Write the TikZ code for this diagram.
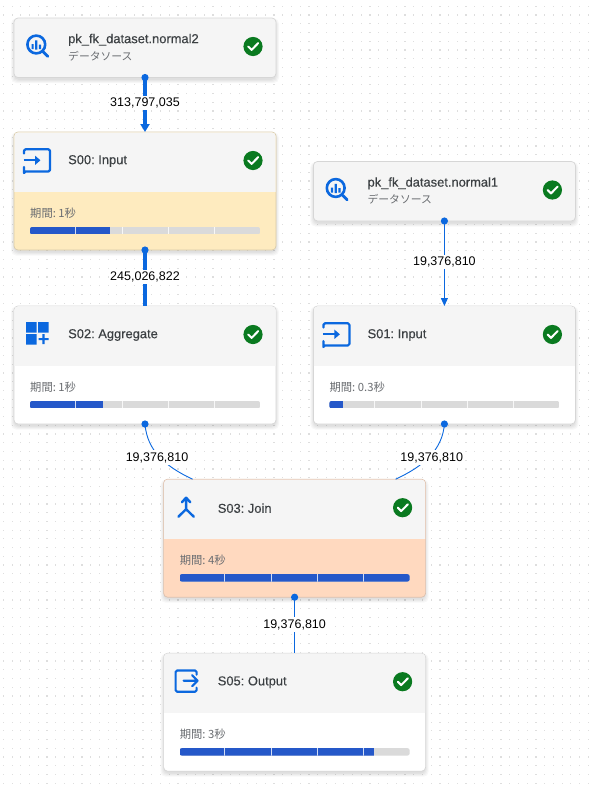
\documentclass[tikz,border=0pt]{standalone}
\usepackage{fontspec}
\setmainfont{Liberation Sans}
\newfontfamily\jpfont{Noto Sans CJK JP}
\newfontfamily\medfont[FakeBold=0.35]{Liberation Sans}
\usetikzlibrary{arrows.meta,calc}
\definecolor{flow}{HTML}{0B68DF}
\definecolor{iconblue}{HTML}{0B68DF}
\definecolor{barblue}{HTML}{2558C9}
\definecolor{bargrey}{HTML}{DADADA}
\definecolor{okgreen}{HTML}{0A7A20}
\definecolor{hdr}{HTML}{F5F5F5}
\definecolor{edge}{HTML}{D6D6D6}
\definecolor{warm}{HTML}{FEEBBF}
\definecolor{warmedge}{HTML}{D8CBAA}
\definecolor{hot}{HTML}{FFD9BF}
\definecolor{hotedge}{HTML}{DCC0AE}
\definecolor{griddot}{HTML}{DEDEDE}
\definecolor{titletext}{HTML}{3C4043}
\definecolor{subtext}{HTML}{6A6D71}
\tikzset{
  x=1pt,y=-1pt,
  cardbox/.style={draw=edge,line width=.7pt,rounded corners=4pt,minimum width=262pt,inner sep=0pt,outer sep=0pt},
  titletxt/.style={anchor=west,inner sep=0pt,text=titletext,font=\medfont\fontsize{12.9}{14}\selectfont},
  subtxt/.style={anchor=west,inner sep=0pt,text=subtext,font=\jpfont\fontsize{10.8}{13}\selectfont},
  timetxt/.style={anchor=west,inner sep=0pt,text=subtext,font=\jpfont\fontsize{11.3}{14}\selectfont},
  lbl/.style={fill=white,inner xsep=1.5pt,inner ysep=2pt,text=black,font=\fontsize{12.5}{14}\selectfont},
  thickflow/.style={draw=flow,line width=3.4pt},
  thinflow/.style={draw=flow,line width=.9pt},
  portdot/.style={fill=flow},
  iconline/.style={draw=iconblue,line width=2.2pt,line cap=round,line join=round},
  checkmark/.style={draw=white,line width=2pt,line cap=round,line join=round},
}
\newcommand{\cardshadow}[1]{%
  \foreach \g in {0,1,2,3}{%
    \fill[black,opacity=.03,rounded corners=5pt] (-\g*1.0,2-\g*.5) rectangle (262+\g*1.0,#1+2.5+\g*1.0);
  }%
}
\newcommand{\okbadge}[1]{%
  \fill[okgreen] (239,#1) circle (9.6);
  \draw[checkmark] (234.2,#1) -- (237.6,#1+3.4) -- (244.2,#1-3.4);
}
\newcommand{\inputicon}{%
  \draw[iconline] (10,21.5) -- (10,18.8) arc[start angle=180,end angle=270,radius=1.5] -- (34.5,17.3) arc[start angle=-90,end angle=0,radius=1.5] -- (36,38) arc[start angle=0,end angle=90,radius=1.5] -- (11.5,39.5) arc[start angle=270,end angle=180,radius=1.5] -- (10,35);
  \draw[iconline,line cap=butt,-{Triangle[length=5.5pt,width=9pt]}] (9.5,28.3) -- (26.5,28.3);
}
\newcommand{\outputicon}{%
  \draw[iconline] (33,21.5) -- (33,18.8) arc[start angle=0,end angle=-90,radius=1.5] -- (13.5,17.3) arc[start angle=270,end angle=180,radius=1.5] -- (12,37) arc[start angle=180,end angle=90,radius=1.5] -- (31.5,38.5) arc[start angle=90,end angle=0,radius=1.5] -- (33,34.5);
  \draw[iconline] (20,27.5) -- (34,27.5) (28.5,22) -- (34,27.5) -- (28.5,33);
}
\newcommand{\aggicon}{%
  \fill[iconblue] (12,16) rectangle (22.5,26.5) (24,16) rectangle (34.5,26.5) (12,28) rectangle (22.5,38.5);
  \fill[iconblue] (24.5,32) rectangle (34.5,34.2) (28.4,28) rectangle (30.6,38);
}
\newcommand{\joinicon}{%
  \draw[iconline,line width=2.4pt] (22.5,19) -- (22.5,30) (14.8,37.5) -- (22.5,30) -- (30.2,37.5) (18.3,23) -- (22.5,18.5) -- (26.7,23);
}
\newcommand{\bqicon}{%
  \draw[iconline,line width=2.6pt] (22.3,26.5) circle (8.9);
  \draw[iconline,line width=2.8pt] (29.2,33.8) -- (33.8,38.4);
  \fill[iconblue] (17.5,26) rectangle (19.7,31) (21.2,22.3) rectangle (23.4,31.5) (24.9,26.5) rectangle (27.1,31);
}
\newcommand{\stagecard}[9]{%
  \begin{scope}[shift={(#2,#3)}]
    \cardshadow{118}
    \node[cardbox,draw=#5,fill=#4,minimum height=118pt] (#1) at (131,59) {};
    \begin{scope}
      \clip[rounded corners=3.6pt] (.4,.4) rectangle (261.6,117.6);
      \fill[hdr] (0,0) rectangle (262,59.5);
    \end{scope}
    #6
    \node[titletxt] at (54,29) {#7};
    \okbadge{28.5}
    \node[timetxt] at (16,81.2) {期間: #8};
    \begin{scope}
      \clip[rounded corners=2pt] (16,95) rectangle (246,102.3);
      \fill[bargrey] (16,95) rectangle (246,102.3);
      \fill[barblue] (16,95) rectangle (16+#9,102.3);
      \foreach \s in {61.3,108,154.3,200.3}{\fill[white,opacity=.8] (\s-.5,95) rectangle (\s+.5,102.3);}
    \end{scope}
  \end{scope}
}
\newcommand{\sourcecard}[5]{%
  \begin{scope}[shift={(#2,#3)}]
    \cardshadow{59.5}
    \node[cardbox,fill=hdr,minimum height=59.5pt] (#1) at (131,29.75) {};
    \bqicon
    \node[titletxt] at (54,#5) {#4};
    \node[subtxt] at (54,#5+16.3) {データソース};
    \okbadge{28.5}
  \end{scope}
}
\begin{document}
\frenchspacing
\begin{tikzpicture}
\useasboundingbox (0,0) rectangle (596,787);
\fill[white] (0,0) rectangle (596,787);
\foreach \i in {0,...,67}{
  \foreach \j in {0,...,89}{
    \fill[griddot] ({3.4+\i*8.73-.6},{6.3+\j*8.73-.6}) rectangle ++(1.2,1.2);
  }
}
\sourcecard{ds2}{14}{18}{pk\_fk\_dataset.normal2}{21.8}
\sourcecard{ds1}{313.4}{161.5}{pk\_fk\_dataset.normal1}{21.8}
\stagecard{s00}{14}{132}{warm}{warmedge}{\inputicon}{S00: Input}{1秒}{80}
\stagecard{s01}{313.4}{306}{white}{edge}{\inputicon}{S01: Input}{0.3秒}{14}
\stagecard{s02}{14}{306}{white}{edge}{\aggicon}{S02: Aggregate}{1秒}{73}
\stagecard{s03}{163.6}{479.2}{hot}{hotedge}{\joinicon}{S03: Join}{4秒}{231}
\stagecard{s05}{163.6}{653.2}{white}{edge}{\outputicon}{S05: Output}{3秒}{194}
\draw[thickflow,-{Triangle[length=8pt,width=9pt]}] (ds2.south) -- node[lbl,pos=.47] (l1) {313,797,035} (s00.north);
\draw[thickflow] (s00.south) -- node[lbl,pos=.48] (l2) {245,026,822} (s02.north);
\draw[thinflow,-{Triangle[length=8pt,width=7pt]}] (ds1.south) -- node[lbl,pos=.485] (l3) {19,376,810} (s01.north);
\draw[thinflow] (s02.south) .. controls ($(s02.south)+(2,26)$) and ($(s03.north)+(-130,-13)$) .. node[lbl,pos=.5,xshift=-2pt,yshift=-1pt] (l4) {19,376,810} ($(s03.north)+(-102,0)$);
\draw[thinflow] (s01.south) .. controls ($(s01.south)+(-2,26)$) and ($(s03.north)+(129,-13)$) .. node[lbl,pos=.5,xshift=2pt,yshift=-1pt] (l5) {19,376,810} ($(s03.north)+(101,0)$);
\draw[thinflow] (s03.south) -- node[lbl,pos=.49] (l6) {19,376,810} (s05.north);
\foreach \n in {ds2,ds1,s00,s01,s02,s03}{\fill[portdot] (\n.south) circle (3.6);}
\end{tikzpicture}
\end{document}
